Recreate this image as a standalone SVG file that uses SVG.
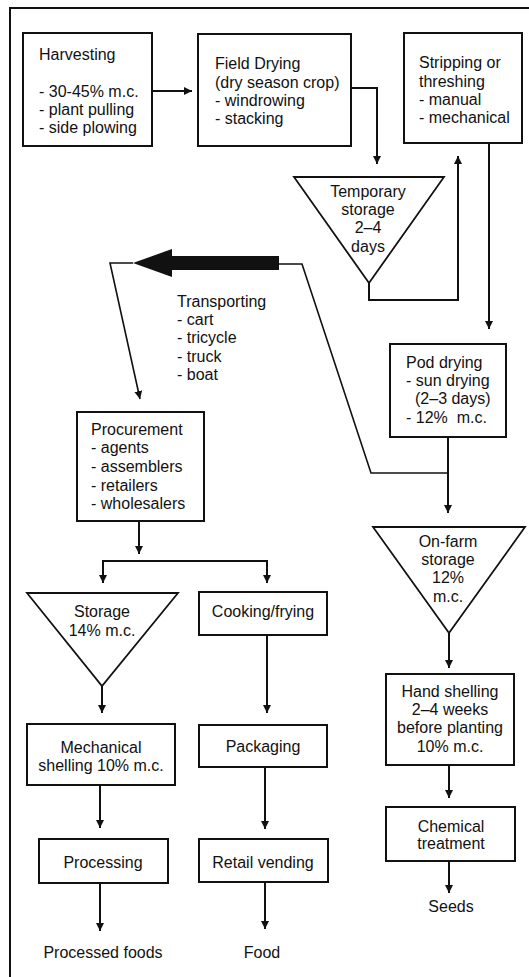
<svg xmlns="http://www.w3.org/2000/svg" width="529" height="977" viewBox="0 0 529 977">
  <style>
    .box { fill: #fff; stroke: #111; stroke-width: 2; }
    .tri { fill: #fff; stroke: #111; stroke-width: 1.8; stroke-linejoin: miter; }
    .ln { fill: none; stroke: #111; stroke-width: 2; }
    .thin { fill: none; stroke: #111; stroke-width: 1.6; }
    text { font-family: "Liberation Sans", Arial, Helvetica, sans-serif; font-size: 16px; fill: #111; }
    .c { text-anchor: middle; }
  </style>
  <defs>
    <marker id="ah" markerWidth="8" markerHeight="10" refX="8" refY="5" orient="auto" markerUnits="userSpaceOnUse">
      <path d="M0,1 L8,5 L0,9 Z" fill="#111"/>
    </marker>
  </defs>

  <rect width="529" height="977" fill="#fff"/>
  <!-- page frame -->
  <path d="M10,977 V8 H529" fill="none" stroke="#111" stroke-width="2"/>

  <!-- connectors -->
  <g id="connectors">
    <path class="ln" d="M152,91 H192" marker-end="url(#ah)"/>
    <path class="ln" d="M351,88 H377 V164" marker-end="url(#ah)"/>
    <path class="ln" d="M369,283 V300 H458 V156" marker-end="url(#ah)"/>
    <path class="ln" d="M489,143 V329" marker-end="url(#ah)"/>
    <path class="ln" d="M448,437 V513" marker-end="url(#ah)"/>
    <path class="thin" d="M448,473 H371 L302,264 H278"/>
    <!-- bold transport arrow -->
    <path d="M279,256 H172 V249 L133,263 L172,277 V270 H279 Z" fill="#111"/>
    <path class="thin" d="M133,263 H110 L140,399" marker-end="url(#ah)"/>
    <path class="ln" d="M139,521 V554" marker-end="url(#ah)"/>
    <path class="ln" d="M185,561 H103 V583" marker-end="url(#ah)"/>
    <path class="ln" d="M185,561 H267 V583" marker-end="url(#ah)"/>
    <path class="ln" d="M102,686 V713" marker-end="url(#ah)"/>
    <path class="ln" d="M267,635 V713" marker-end="url(#ah)"/>
    <path class="ln" d="M100,785 V828" marker-end="url(#ah)"/>
    <path class="ln" d="M265,767 V829" marker-end="url(#ah)"/>
    <path class="ln" d="M100,883 V931" marker-end="url(#ah)"/>
    <path class="ln" d="M265,882 V929" marker-end="url(#ah)"/>
    <path class="ln" d="M449,633 V668" marker-end="url(#ah)"/>
    <path class="ln" d="M449,765 V798" marker-end="url(#ah)"/>
    <path class="ln" d="M449,861 V893" marker-end="url(#ah)"/>
  </g>

  <g id="harvesting">
    <rect class="box" x="23" y="33" width="129" height="113"/>
    <text x="39" y="60">Harvesting</text>
    <text x="39" y="97">- 30-45% m.c.</text>
    <text x="39" y="115">- plant pulling</text>
    <text x="39" y="133">- side plowing</text>
  </g>

  <g id="field-drying">
    <rect class="box" x="198" y="34" width="153" height="112"/>
    <text x="215" y="69">Field Drying</text>
    <text x="215" y="88">(dry season crop)</text>
    <text x="215" y="106">- windrowing</text>
    <text x="215" y="124">- stacking</text>
  </g>

  <g id="stripping">
    <rect class="box" x="404" y="33" width="118" height="110"/>
    <text x="419" y="68">Stripping or</text>
    <text x="419" y="87">threshing</text>
    <text x="419" y="105">- manual</text>
    <text x="419" y="123">- mechanical</text>
  </g>

  <g id="temporary-storage">
    <path class="tri" d="M294,177 H444 L369,283 Z"/>
    <text class="c" x="368" y="197">Temporary</text>
    <text class="c" x="368" y="215">storage</text>
    <text class="c" x="368" y="233">2–4</text>
    <text class="c" x="368" y="252">days</text>
  </g>

  <g id="transporting">
    <text x="177" y="307">Transporting</text>
    <text x="177" y="325">- cart</text>
    <text x="177" y="343">- tricycle</text>
    <text x="177" y="362">- truck</text>
    <text x="177" y="380">- boat</text>
  </g>

  <g id="pod-drying">
    <rect class="box" x="390" y="344" width="116" height="93"/>
    <text x="406" y="368">Pod drying</text>
    <text x="406" y="386">- sun drying</text>
    <text x="415" y="404">(2–3 days)</text>
    <text x="406" y="423" xml:space="preserve">- 12%  m.c.</text>
  </g>

  <g id="procurement">
    <rect class="box" x="77" y="412" width="127" height="109"/>
    <text x="91" y="435">Procurement</text>
    <text x="91" y="453">- agents</text>
    <text x="91" y="472">- assemblers</text>
    <text x="91" y="491">- retailers</text>
    <text x="91" y="509">- wholesalers</text>
  </g>

  <g id="storage">
    <path class="tri" d="M27,593 H178 L102,686 Z"/>
    <text class="c" x="102" y="617">Storage</text>
    <text class="c" x="102" y="636">14% m.c.</text>
  </g>

  <g id="cooking">
    <rect class="box" x="199" y="592" width="128" height="43"/>
    <text class="c" x="263" y="617">Cooking/frying</text>
  </g>

  <g id="on-farm-storage">
    <path class="tri" d="M373,527 H525 L449,633 Z"/>
    <text class="c" x="448" y="547">On-farm</text>
    <text class="c" x="448" y="565">storage</text>
    <text class="c" x="448" y="583">12%</text>
    <text class="c" x="448" y="602">m.c.</text>
  </g>

  <g id="mechanical-shelling">
    <rect class="box" x="27" y="724" width="148" height="61"/>
    <text class="c" x="101" y="753">Mechanical</text>
    <text class="c" x="101" y="771">shelling 10% m.c.</text>
  </g>

  <g id="packaging">
    <rect class="box" x="199" y="725" width="128" height="42"/>
    <text class="c" x="263" y="752">Packaging</text>
  </g>

  <g id="hand-shelling">
    <rect class="box" x="386" y="674" width="128" height="91"/>
    <text class="c" x="450" y="697">Hand shelling</text>
    <text class="c" x="450" y="715">2–4 weeks</text>
    <text class="c" x="450" y="733">before planting</text>
    <text class="c" x="450" y="752">10% m.c.</text>
  </g>

  <g id="processing">
    <rect class="box" x="39" y="839" width="129" height="44"/>
    <text class="c" x="103" y="868">Processing</text>
  </g>

  <g id="retail-vending">
    <rect class="box" x="199" y="839" width="129" height="43"/>
    <text class="c" x="263" y="868">Retail vending</text>
  </g>

  <g id="chemical-treatment">
    <rect class="box" x="386" y="807" width="129" height="54"/>
    <text class="c" x="451" y="832">Chemical</text>
    <text class="c" x="451" y="849">treatment</text>
  </g>

  <g id="outputs">
    <text class="c" x="103" y="958">Processed foods</text>
    <text class="c" x="262" y="958">Food</text>
    <text class="c" x="451" y="912">Seeds</text>
  </g>
</svg>
